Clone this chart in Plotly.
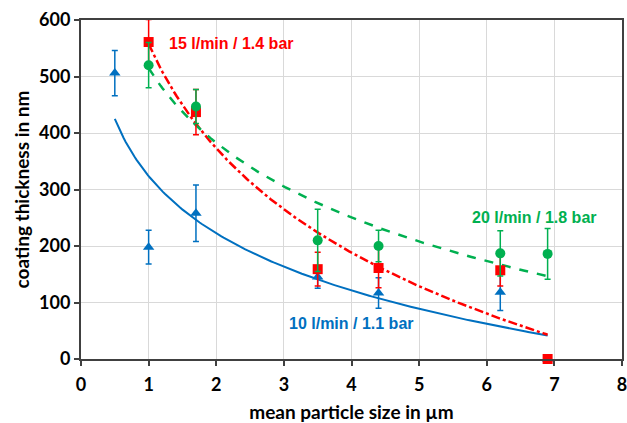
import numpy as np
import plotly.graph_objects as go

# --- data ---
x_blue = [0.5, 1.0, 1.7, 3.5, 4.4, 6.2, 6.9]
y_blue = [506, 198, 258, 145, 117, 118, 0]
e_blue = [40, 30, 50, 20, 27, 32, 0]

x_red = [1.0, 1.7, 3.5, 4.4, 6.2, 6.9]
y_red = [561, 437, 159, 161, 157, 0]
e_red = [40, 40, 30, 35, 28, 0]

x_green = [1.0, 1.7, 3.5, 4.4, 6.2, 6.9]
y_green = [520, 447, 210, 200, 187, 186]
e_green = [40, 30, 55, 28, 40, 45]

labels = ["10 l/min / 1.1 bar", "15 l/min / 1.4 bar", "20 l/min / 1.8 bar"]

BLUE = "#0070C0"
RED = "#FF0000"
GREEN = "#00B050"


def log_fit(xs, ys):
    lx = np.log(np.asarray(xs, dtype=float))
    b, a = np.polyfit(lx, np.asarray(ys, dtype=float), 1)
    xf = np.linspace(min(xs), max(xs), 200)
    return xf, a + b * np.log(xf)


fig = go.Figure()

series = [
    (x_blue, y_blue, e_blue, BLUE, "triangle-up", "solid", 2),
    (x_red, y_red, e_red, RED, "square", "dashdot", 2.5),
    (x_green, y_green, e_green, GREEN, "circle", "dash", 2.5),
]

# fitted trend lines
for xs, ys, es, col, sym, dash, lw in series:
    xf, yf = log_fit(xs, ys)
    fig.add_trace(go.Scatter(x=xf, y=yf, mode="lines",
                             line=dict(color=col, width=lw, dash=dash),
                             hoverinfo="skip", showlegend=False))

# data points with error bars
for xs, ys, es, col, sym, dash, lw in series:
    fig.add_trace(go.Scatter(x=xs, y=ys, mode="markers",
                             marker=dict(color=col, symbol=sym, size=10),
                             error_y=dict(type="data", array=es, visible=True,
                                          color=col, thickness=1.5, width=3),
                             cliponaxis=False, showlegend=False))

ann_font = dict(family="Liberation Sans", size=16)
fig.add_annotation(x=3.05, y=62, text="<b>" + labels[0] + "</b>", showarrow=False,
                   xanchor="left", font=dict(ann_font, color=BLUE))
fig.add_annotation(x=1.27, y=558, text="<b>" + labels[1] + "</b>", showarrow=False,
                   xanchor="left", font=dict(ann_font, color=RED))
fig.add_annotation(x=5.75, y=250, text="<b>" + labels[2] + "</b>", showarrow=False,
                   xanchor="left", font=dict(ann_font, color=GREEN))

axis_font = dict(family="Lato", size=18, color="#000000")
title_font = dict(family="Lato", size=19, color="#000000")
common = dict(showgrid=True, gridcolor="#D9D9D9", gridwidth=1,
              showline=True, linecolor="#404040", linewidth=2, mirror=True,
              ticks="outside", ticklen=5, tickcolor="#404040", tickwidth=1.5,
              zeroline=False, automargin=False, tickfont=axis_font,
              ticklabeloverflow="allow",
              tickprefix="<b>", ticksuffix="</b>")
fig.update_xaxes(range=[0, 8], dtick=1, tick0=0, ticklabelstandoff=3,
                 title=dict(text="<b>mean particle size in µm</b>", font=title_font, standoff=12),
                 **common)
fig.update_yaxes(range=[0, 600], dtick=100, tick0=0,
                 title=dict(text="<b>coating thickness in nm</b>", font=title_font, standoff=4),
                 **common)
fig.update_layout(width=627, height=423,
                  margin=dict(l=81, r=5, t=20, b=64),
                  plot_bgcolor="white", paper_bgcolor="white",
                  font=dict(family="Lato"))

# remove the default page margin so the figure fills the window exactly
fig.write_html("out.html",
               config={"displayModeBar": False},
               post_script="document.body.style.margin='0';document.body.style.overflow='hidden';")
